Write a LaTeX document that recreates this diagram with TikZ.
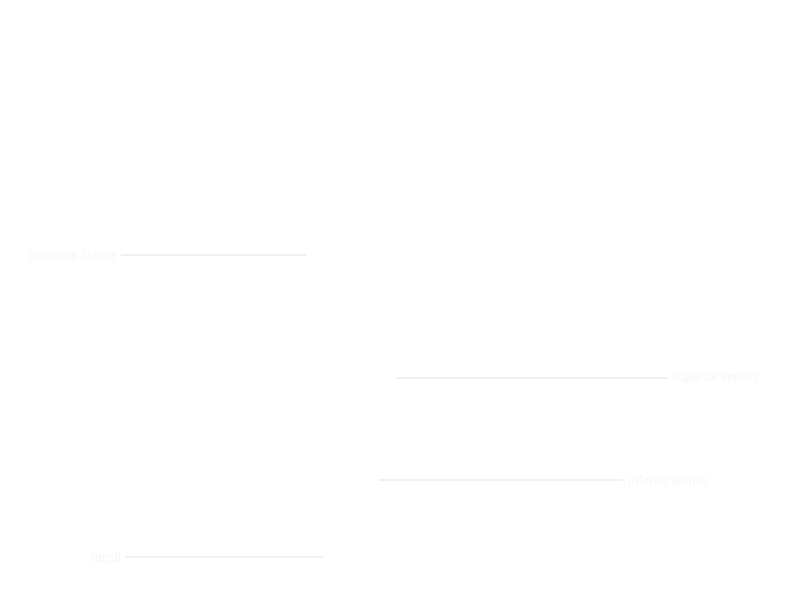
\documentclass[tikz,border=0pt]{standalone}
\usepackage{fontspec}
\setmainfont{Open Sans}
\definecolor{labeltext}{HTML}{F6F6F6}
\definecolor{leader}{HTML}{F1F1F1}
\begin{document}
\begin{tikzpicture}[x=1pt,y=-1pt,
  lbl/.style={inner sep=0pt, text=labeltext, font=\fontsize{13.8}{16}\selectfont},
  leaderline/.style={draw=leader, line width=1.4pt}]
\useasboundingbox[fill=white] (0,0) rectangle (800,600);
\node[lbl, anchor=east] (calc) at (117,255) {\scalebox{0.85}[1]{calcarine fissure}};
\coordinate (calcend) at (306,255);
\draw[leaderline] (calc.east |- 0,255) ++(4,0) -- (calcend);
\node[lbl, anchor=west] (sup) at (672,378) {\scalebox{0.85}[1]{superior vermis}};
\coordinate (supend) at (397,378);
\draw[leaderline] (sup.west |- 0,378) ++(-5,0) -- (supend);
\node[lbl, anchor=west] (inf) at (628,480) {\scalebox{0.85}[1]{inferior vermis}};
\coordinate (infend) at (379,480);
\draw[leaderline] (inf.west |- 0,480) ++(-5,0) -- (infend);
\node[lbl, anchor=east] (tons) at (121,557) {\scalebox{0.85}[1]{tonsil}};
\coordinate (tonsend) at (323,557);
\draw[leaderline] (tons.east |- 0,557) ++(5,0) -- (tonsend);
\end{tikzpicture}
\end{document}
